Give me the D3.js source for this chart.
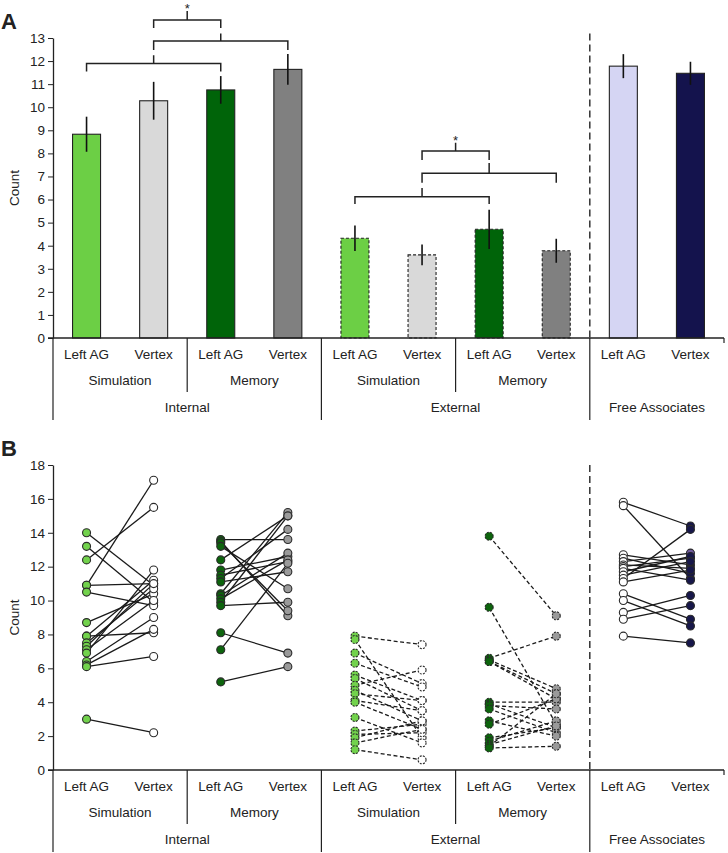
<!DOCTYPE html>
<html><head><meta charset="utf-8">
<script src="https://cdn.jsdelivr.net/npm/d3@7"></script>
<style>
body{margin:0;background:#fff;}
text{font-family:"Liberation Sans",Arial,sans-serif;fill:#222;}
</style></head><body>
<svg id="chart" width="728" height="853"></svg>
<script>
// ---------------- DATA ----------------
const conditions = ["Left AG","Vertex","Left AG","Vertex","Left AG","Vertex","Left AG","Vertex","Left AG","Vertex"];
const subGroups = [
  {label:"Simulation", first:0, last:1},
  {label:"Memory", first:2, last:3},
  {label:"Simulation", first:4, last:5},
  {label:"Memory", first:6, last:7}
];
const topGroups = [
  {label:"Internal", first:0, last:3},
  {label:"External", first:4, last:7},
  {label:"Free Associates", first:8, last:9}
];
// Panel A: means and standard errors
const meansA = [8.83, 10.28, 10.75, 11.64, 4.32, 3.60, 4.71, 3.78, 11.78, 11.47];
const errorsA = [0.76, 0.82, 0.60, 0.67, 0.55, 0.45, 0.85, 0.52, 0.52, 0.50];
const ticksA = [0,1,2,3,4,5,6,7,8,9,10,11,12,13];
const ticksB = [0,2,4,6,8,10,12,14,16,18];
// significance brackets (category index span, levels in counts)
const bracketsA = [
  {from:0, to:2, level:11.90, leg:11.55, tip:12.25, star:false},
  {from:1, to:3, level:12.87, leg:12.48, tip:13.20, star:false},
  {from:1, to:2, level:13.78, leg:13.43, tip:14.17, star:true},
  {from:4, to:6, level:6.12, leg:5.81, tip:6.50, star:false},
  {from:5, to:7, level:7.14, leg:6.73, tip:7.58, star:false},
  {from:5, to:6, level:8.10, leg:7.71, tip:8.46, star:true}
];
// Panel B: individual participants (Left AG value, Vertex value, paired by index)
const intSimLeft  = [14.0, 13.2, 12.4, 10.9, 10.9, 10.5, 8.7, 7.9, 7.9, 7.5, 7.3, 7.1, 6.9, 6.4, 6.2, 6.1, 3.0];
const intSimVert  = [10.9, 9.9, 15.5, 17.1, 11.0, 9.7, 10.4, 11.2, 8.1, 10.7, 11.0, 10.0, 11.8, 9.0, 8.3, 6.7, 2.2];
const intMemLeft  = [13.6, 13.5, 13.4, 13.2, 12.4, 11.8, 11.5, 11.3, 11.1, 10.4, 10.3, 10.1, 9.9, 9.7, 8.1, 7.1, 5.2];
const intMemVert  = [13.6, 9.1, 9.4, 10.7, 15.0, 12.6, 12.3, 14.2, 11.7, 15.2, 12.8, 12.4, 15.0, 9.9, 6.9, 12.2, 6.1];
const extSimLeft  = [7.9, 7.7, 6.9, 6.3, 5.6, 5.4, 5.0, 4.7, 4.5, 4.1, 4.0, 3.1, 2.3, 2.1, 1.9, 1.6, 1.2];
const extSimVert  = [7.4, 1.9, 5.1, 4.9, 4.1, 3.5, 5.9, 2.9, 4.1, 3.5, 2.4, 1.6, 2.7, 2.2, 2.9, 2.4, 0.6];
const extMemLeft  = [13.8, 9.6, 6.6, 6.5, 6.4, 6.4, 4.0, 3.9, 3.8, 3.6, 2.9, 2.7, 1.9, 1.7, 1.5, 1.4, 1.3];
const extMemVert  = [9.1, 2.7, 7.9, 4.8, 4.5, 4.2, 4.0, 2.5, 3.6, 2.2, 2.0, 4.2, 2.5, 2.9, 2.6, 4.5, 1.4];
const freeLeft    = [15.8, 15.6, 12.7, 12.5, 12.3, 12.1, 12.0, 11.9, 11.7, 11.5, 11.3, 11.1, 10.4, 10.0, 9.3, 8.9, 7.9];
const freeVert    = [14.4, 11.3, 12.1, 11.6, 12.8, 11.9, 12.5, 11.2, 12.6, 12.3, 14.2, 11.8, 8.9, 8.5, 10.3, 9.7, 7.5];
const freeVertHighlight = 4;

// ---------------- STYLE ----------------
const barFill = ["#6ccf45","#d9d9d9","#006409","#808080","#6ccf45","#d9d9d9","#006409","#808080","#d5d5f3","#14134d"];
const dotFill = ["#72d24c","#ffffff","#0d640d","#9a9a9a","#72d24c","#ffffff","#0d640d","#9a9a9a","#ffffff","#17174a"];
const pairsB = [
  {l:0, v:1, left:intSimLeft, vert:intSimVert, dashed:false},
  {l:2, v:3, left:intMemLeft, vert:intMemVert, dashed:false},
  {l:4, v:5, left:extSimLeft, vert:extSimVert, dashed:true},
  {l:6, v:7, left:extMemLeft, vert:extMemVert, dashed:true},
  {l:8, v:9, left:freeLeft, vert:freeVert, dashed:false}
];

const svg = d3.select("#chart");
const x = d3.scalePoint().domain(d3.range(conditions.length)).range([53, 724]).padding(0.5);
const step = x.step();
const leftEdge = x(0) - step/2, rightEdge = x(conditions.length-1) + step/2;
const barW = 28;

function categoryAxis(g, base) {
  g.append("line").attr("x1", leftEdge-5).attr("x2", rightEdge).attr("y1", base).attr("y2", base)
    .attr("stroke","#222").attr("stroke-width",1.3);
  g.selectAll("text.cond").data(conditions).join("text").attr("class","cond")
    .attr("x",(d,i)=>x(i)).attr("y",base+21).attr("text-anchor","middle").attr("font-size",13.5).text(d=>d);
  g.selectAll("text.sub").data(subGroups).join("text").attr("class","sub")
    .attr("x",d=>(x(d.first)+x(d.last))/2).attr("y",base+47).attr("text-anchor","middle").attr("font-size",13.5).text(d=>d.label);
  g.selectAll("text.top").data(topGroups).join("text").attr("class","top")
    .attr("x",d=>(x(d.first)+x(d.last))/2).attr("y",base+74).attr("text-anchor","middle").attr("font-size",13.5).text(d=>d.label);
  // separators
  g.selectAll("line.subsep").data(subGroups.filter(d=>d.first>0 && !topGroups.some(t=>t.first===d.first))).join("line")
    .attr("class","subsep").attr("x1",d=>x(d.first)-step/2).attr("x2",d=>x(d.first)-step/2)
    .attr("y1",base).attr("y2",base+54).attr("stroke","#222").attr("stroke-width",1.2);
  g.selectAll("line.topsep").data(topGroups).join("line")
    .attr("class","topsep").attr("x1",d=>x(d.first)-step/2).attr("x2",d=>x(d.first)-step/2)
    .attr("y1",base).attr("y2",base+82).attr("stroke","#222").attr("stroke-width",1.2);
  g.append("line").attr("x1",rightEdge).attr("x2",rightEdge).attr("y1",base).attr("y2",base+5)
    .attr("stroke","#222").attr("stroke-width",1.2);
}

function valueAxis(g, y, ticks, labelY) {
  const ax = g.append("g").attr("transform",`translate(${leftEdge},0)`)
    .call(d3.axisLeft(y).tickValues(ticks).tickSize(5).tickSizeOuter(0).tickPadding(3));
  ax.selectAll("text").attr("font-size",13.5).attr("fill","#222").style("font-family",'"Liberation Sans",Arial,sans-serif');
  ax.selectAll("line").attr("stroke","#222");
  ax.select(".domain").attr("stroke","#222").attr("stroke-width",1.3);
  g.append("text").attr("transform",`translate(19,${labelY}) rotate(-90)`).attr("text-anchor","middle")
    .attr("font-size",13.5).text("Count");
}

// ---------------- PANEL A ----------------
const yA = d3.scaleLinear().domain([0,13]).range([338,38]);
const gA = svg.append("g");
gA.append("text").attr("x",1).attr("y",29).attr("font-size",22).attr("font-weight","bold").text("A");
valueAxis(gA, yA, ticksA, (yA(0)+yA(13))/2);

gA.selectAll("rect.bar").data(meansA).join("rect").attr("class","bar")
  .attr("x",(d,i)=>x(i)-barW/2).attr("width",barW)
  .attr("y",d=>yA(d)).attr("height",d=>yA(0)-yA(d))
  .attr("fill",(d,i)=>barFill[i]).attr("stroke","#222").attr("stroke-width",1.1)
  .attr("stroke-dasharray",(d,i)=> (i>=4 && i<=7) ? "3,2" : null);
gA.selectAll("line.err").data(meansA).join("line").attr("class","err")
  .attr("x1",(d,i)=>x(i)).attr("x2",(d,i)=>x(i))
  .attr("y1",(d,i)=>yA(d-errorsA[i])).attr("y2",(d,i)=>yA(d+errorsA[i]))
  .attr("stroke","#111").attr("stroke-width",1.6);

bracketsA.forEach(b=>{
  const x1 = x(b.from), x2 = x(b.to), xc=(x1+x2)/2;
  gA.append("path").attr("d",`M${x1},${yA(b.leg)}V${yA(b.level)}H${x2}V${yA(b.leg)}M${xc},${yA(b.level)}V${yA(b.tip)}`)
    .attr("fill","none").attr("stroke","#222").attr("stroke-width",1.5);
  if (b.star) gA.append("text").attr("x",xc).attr("y",yA(b.tip)+2).attr("text-anchor","middle").attr("font-size",13).text("*");
});
categoryAxis(gA, yA(0));
gA.append("line").attr("x1",x(8)-step/2).attr("x2",x(8)-step/2).attr("y1",yA(13.2)).attr("y2",yA(0))
  .attr("stroke","#333").attr("stroke-width",1.5).attr("stroke-dasharray","7,4");

// ---------------- PANEL B ----------------
const yB = d3.scaleLinear().domain([0,18]).range([770,465]);
const gB = svg.append("g");
gB.append("text").attr("x",1).attr("y",456).attr("font-size",22).attr("font-weight","bold").text("B");
valueAxis(gB, yB, ticksB, (yB(0)+yB(18))/2);

pairsB.forEach(p=>{
  const gp = gB.append("g");
  gp.selectAll("line").data(p.left).join("line")
    .attr("x1",x(p.l)).attr("x2",x(p.v))
    .attr("y1",d=>yB(d)).attr("y2",(d,i)=>yB(p.vert[i]))
    .attr("stroke","#1a1a1a").attr("stroke-width",1.3)
    .attr("stroke-dasharray",p.dashed?"4,2.5":null);
  const dash = p.dashed ? "2,1.2" : null;
  gp.selectAll("circle.l").data(p.left).join("circle").attr("class","l")
    .attr("cx",x(p.l)).attr("cy",d=>yB(d)).attr("r",4)
    .attr("fill",dotFill[p.l]).attr("stroke","#2a2a2a").attr("stroke-width",1.1).attr("stroke-dasharray",dash);
  gp.selectAll("circle.v").data(p.vert).join("circle").attr("class","v")
    .attr("cx",x(p.v)).attr("cy",d=>yB(d)).attr("r",4)
    .attr("fill",(d,i)=> (p.l===8 && i===freeVertHighlight) ? "#6f5a9c" : dotFill[p.v])
    .attr("stroke","#2a2a2a").attr("stroke-width",1.1).attr("stroke-dasharray",dash);
});
categoryAxis(gB, yB(0));
gB.append("line").attr("x1",x(8)-step/2).attr("x2",x(8)-step/2).attr("y1",yB(18)).attr("y2",yB(0))
  .attr("stroke","#333").attr("stroke-width",1.5).attr("stroke-dasharray","7,4");
</script></body></html>
